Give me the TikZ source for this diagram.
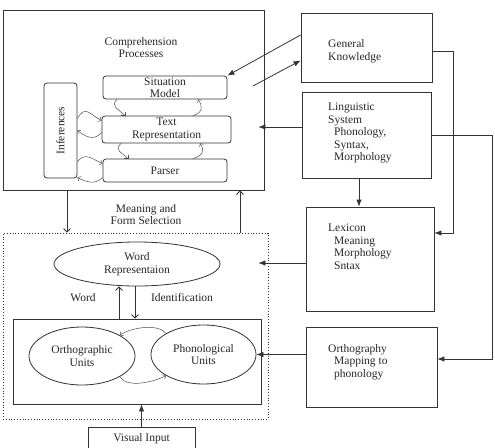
\documentclass[tikz,border=0pt]{standalone}
\usepackage{fontspec}
\setmainfont{Liberation Serif}
\usetikzlibrary{arrows.meta,shapes.geometric}
\tikzset{
  box/.style={draw=black!80, line width=0.8pt, inner sep=0pt},
  rbox/.style={box, rounded corners=3pt},
  oval/.style={draw=black!80, line width=0.8pt, ellipse, inner sep=0pt},
  txt/.style={text=black!85, font=\fontsize{11.5}{12.5}\selectfont, align=center, inner sep=0pt},
  line/.style={draw=black!80, line width=0.8pt},
  solidtip/.style={line, -{Latex[length=7pt,width=5.5pt]}},
  opentip/.style={line, -{Straight Barb[length=3.5pt,width=7pt]}},
  loopline/.style={draw=black!70, line width=0.5pt, -{Straight Barb[length=2.5pt,width=5pt]}},
}
\begin{document}
\begin{tikzpicture}[x=1pt,y=-1pt]
\path[use as bounding box, clip] (0,0) rectangle (495,447);

\node[box, minimum width=261pt, minimum height=180pt] (comp) at (133.5,100) {};
\node[txt] (comptitle) at (141,47.5) {Comprehension\\Processes};
\node[rbox, txt, minimum width=124pt, minimum height=23pt] (sit) at (165,87.5) {Situation\\Model};
\node[rbox, txt, minimum width=129pt, minimum height=27pt] (textrep) at (166.5,129.5) {Text\\Representation};
\node[rbox, txt, minimum width=124pt, minimum height=23pt] (parser) at (165,170.5) {Parser};
\node[rbox, minimum width=33pt, minimum height=95pt] (infer) at (60.5,130.5) {};
\node[txt, rotate=90] (infertext) at (infer.center) {Inferences};

\node[box, minimum width=131pt, minimum height=69pt] (gk) at (366.5,47.5) {};
\node[txt, align=left, anchor=west] (gktext) at (328,51.5) {General\\Knowledge};
\node[box, minimum width=129pt, minimum height=86pt] (ling) at (366.5,135) {};
\node[txt, align=left, anchor=west] (lingtext) at (328,133) {Linguistic\\System\\\hspace*{6pt}Phonology,\\\hspace*{6pt}Syntax,\\\hspace*{6pt}Morphology};
\node[box, minimum width=128pt, minimum height=104pt] (lex) at (370,259) {};
\node[txt, align=left, anchor=west] (lextext) at (328,246.5) {Lexicon\\\hspace*{6pt}Meaning\\\hspace*{6pt}Morphology\\\hspace*{6pt}Sntax};
\node[box, minimum width=131pt, minimum height=80pt] (orth) at (371.5,367) {};
\node[txt, align=left, anchor=west] (orthtext) at (328,362) {Orthography\\\hspace*{6pt}Mapping to\\\hspace*{6pt}phonology};

\node[txt] (selection) at (146,214.5) {Meaning and\\Form Selection};
\node[box, dotted, minimum width=265pt, minimum height=186pt] (dotbox) at (135.5,326) {};
\node[oval, txt, minimum width=166pt, minimum height=44pt] (wordrep) at (137,264) {Word\\Representaion};
\node[txt] (wordlbl) at (83,298) {Word};
\node[txt] (identlbl) at (182,298) {Identification};
\node[box, minimum width=248pt, minimum height=85pt] (units) at (137,361.5) {};
\node[oval, txt, minimum width=106pt, minimum height=58pt] (ortho) at (82,356) {Orthographic\\Units};
\node[oval, txt, minimum width=105pt, minimum height=59pt] (phon) at (203.5,354.5) {Phonological\\Units};
\node[box, txt, minimum width=107pt, minimum height=22pt, anchor=north] (visual) at (141.5,427) {Visual Input};

\draw[solidtip] ([yshift=12.5pt]gk.west) -- (sit.north east);
\coordinate (gkfrom) at (253,86);
\draw[solidtip] (gkfrom) -- ([yshift=-13pt]gk.west);
\draw[solidtip, shorten >=-6pt] ([yshift=8pt]ling.west) -- ([yshift=8pt]ling.west -| comp.east);
\draw[solidtip] ([yshift=-4pt]gk.east) -- ++(21,0) |- ([yshift=26pt]lex.east);
\draw[solidtip] (ling.east) -- ++(61,0) |- ([yshift=8pt]orth.east);
\draw[solidtip] ([xshift=-11pt]lex.north |- ling.south) -- ([xshift=-11pt]lex.north);
\draw[solidtip, shorten >=-10pt] ([yshift=-4pt]lex.west) -- ([yshift=-4pt]lex.west -| dotbox.east);
\draw[solidtip] (phon.east -| orth.west) -- (phon.east);
\draw[solidtip] (visual.north) -- (visual.north |- units.south);

\draw[opentip] ([xshift=-66.5pt]comp.south) -- ([xshift=-66.5pt]comp.south |- dotbox.north);
\draw[opentip] ([xshift=104.5pt]dotbox.north) -- ([xshift=104.5pt]dotbox.north |- comp.south);
\draw[opentip] ([xshift=-18pt]units.north) -- ([xshift=-18pt]units.north |- wordrep.south);
\draw[opentip] ([xshift=-2pt]wordrep.south) -- ([xshift=-2pt]wordrep.south |- units.north);

\draw[loopline] ([xshift=-48pt]sit.south) .. controls +(-7,7) and +(-7,-7) .. ([xshift=-41.5pt]textrep.north);
\draw[loopline] ([xshift=26.5pt]textrep.north) .. controls +(10,-3) and +(5,7) .. ([xshift=33pt]sit.south);
\draw[loopline] ([xshift=-45.5pt]textrep.south) .. controls +(-7,7) and +(-7,-7) .. ([xshift=-37pt]parser.north);
\draw[loopline] ([xshift=28pt]parser.north) .. controls +(10,-3) and +(5,7) .. ([xshift=33.5pt]textrep.south);
\draw[loopline] ([yshift=12pt]infer.east) .. controls +(8,-14) and +(-12,-6) .. ([yshift=9pt]textrep.west);
\draw[loopline] ([yshift=-3pt]textrep.west) .. controls +(-8,9) and +(8,6) .. (infer.east);
\draw[loopline] ([yshift=-31pt]infer.east) .. controls +(8,-10) and +(-10,-4) .. ([yshift=7pt]parser.west);
\draw[loopline] ([yshift=-7pt]parser.west) .. controls +(-8,8) and +(8,4) .. ([yshift=-47pt]infer.east);
\draw[loopline] (phon.north west) .. controls +(-8,-10) and +(12,-8) .. (ortho.north east);
\draw[loopline] (ortho.south east) .. controls +(8,12) and +(-12,6) .. (phon.south west);
\end{tikzpicture}
\end{document}
